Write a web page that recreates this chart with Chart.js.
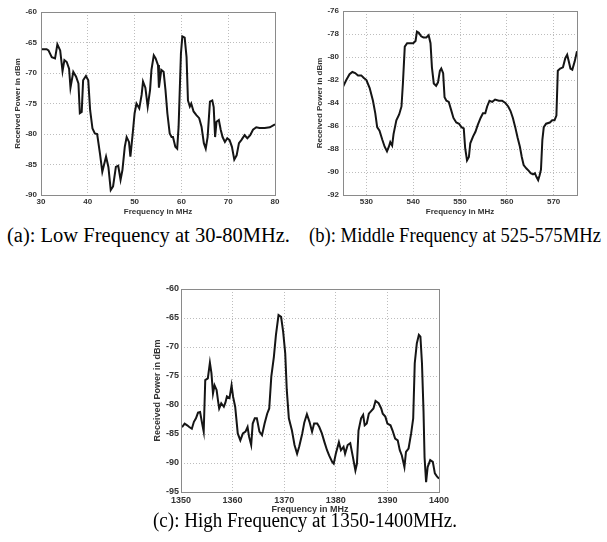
<!DOCTYPE html>
<html>
<head>
<meta charset="utf-8">
<script src="https://cdn.jsdelivr.net/npm/chart.js@4/dist/chart.umd.min.js"></script>
<style>
  html, body { margin: 0; padding: 0; background: #fff; }
  body { width: 607px; height: 542px; position: relative; overflow: hidden; }
  .wrap { position: absolute; }
  .cap { position: absolute; font-family: "Liberation Serif", "Times New Roman", serif; font-size: 20px; color: #000; white-space: nowrap; line-height: 1; transform-origin: 0 50%; }
</style>
</head>
<body>
<div class="wrap" style="left:0px;top:0px;width:300px;height:220px;"><canvas id="cA"></canvas></div>
<div class="wrap" style="left:300px;top:0px;width:307px;height:220px;"><canvas id="cB"></canvas></div>
<div class="wrap" style="left:150px;top:270px;width:310px;height:246px;"><canvas id="cC"></canvas></div>
<span class="cap" id="capA" style="left:7px;top:225px;"></span>
<span class="cap" id="capB" style="left:309px;top:225px;"></span>
<span class="cap" id="capC" style="left:153px;top:510px;"></span>
<script>
// ---- Data ----
const freqA = [30,31.2,31.6,32.3,33,33.5,34.1,34.6,35,35.5,36,36.3,36.9,37.5,38,38.3,38.7,39,39.6,40.1,40.5,41,41.5,42,42.6,43.1,43.9,44.4,44.9,45.4,46,46.5,47,47.4,47.9,48.3,48.8,49.1,49.6,50,50.4,51,51.5,51.8,52.3,52.8,53.3,53.6,54.1,54.5,55,55.2,55.7,56.2,56.6,57,57.5,57.9,58.2,58.7,59.1,59.4,59.9,60.2,60.7,61.1,61.4,61.8,62.1,62.6,63.2,63.8,64.3,64.8,65.2,65.6,66.1,66.6,66.9,67.2,67.5,68,68.4,68.8,69.3,69.8,70.3,70.8,71.3,71.8,72.3,72.8,73.5,74.1,74.7,75.3,76,76.7,77.8,78.9,80];
const powerA = [-66.1,-66.1,-66.3,-67.4,-67.6,-65.3,-66.3,-69.7,-67.9,-68.2,-69.3,-72.4,-69.8,-70.6,-71.7,-76.6,-76.4,-71.2,-70.5,-71.2,-76.1,-79.1,-79.9,-80.0,-83.2,-86.2,-83.7,-85.4,-89.2,-88.6,-85.4,-85.2,-87.5,-85.9,-82.1,-80.5,-81.3,-83.7,-79.9,-76.6,-75.0,-75.8,-73.6,-71.4,-72.4,-75.5,-72.8,-69.5,-67.1,-67.6,-68.7,-72.4,-69.5,-69.8,-72.8,-76.6,-79.9,-80.5,-80.5,-82.1,-82.4,-78.8,-66.8,-64.0,-64.2,-67.4,-74.5,-75.5,-75.0,-76.3,-76.9,-77.4,-78.8,-81.5,-82.4,-80.5,-74.7,-74.5,-75.6,-80.5,-78.0,-77.7,-79.3,-80.5,-81.3,-80.7,-81.0,-82.1,-84.2,-83.5,-81.5,-81.0,-80.2,-80.7,-80.2,-79.3,-78.9,-79.0,-79.0,-78.9,-78.4];

const freqB = [525,525.7,526.4,527,527.6,528.2,528.9,529.4,530,530.7,531.4,531.9,532.3,532.8,533.4,533.9,534.4,534.8,535.1,535.5,535.8,536.4,537,537.5,537.8,538.2,538.7,539.4,540,540.5,540.8,541.2,541.7,542.2,542.8,543.3,543.7,544,544.4,544.9,545.3,545.7,546,546.4,546.7,547.1,547.6,548.1,548.6,549.2,549.8,550.3,550.8,551.1,551.5,551.9,552.2,552.8,553.3,553.8,554.4,554.9,555.4,555.8,556.3,556.9,557.5,558.3,559,559.7,560.3,560.8,561.3,561.8,562.3,562.8,563.2,563.6,564.2,564.7,565.1,565.6,566,566.3,566.7,567,567.3,567.6,567.9,568.4,569.2,569.7,570.2,570.6,570.9,571.4,572,572.5,572.9,573.2,573.6,574,574.5,575];
const powerB = [-82.6,-82.0,-81.5,-81.3,-81.4,-81.6,-81.6,-81.8,-82.0,-82.7,-83.8,-84.9,-86.1,-86.4,-87.2,-87.8,-88.2,-87.8,-87.4,-87.7,-86.7,-85.5,-85.0,-84.3,-82.3,-79.1,-78.8,-78.8,-78.8,-78.6,-77.8,-77.9,-78.2,-78.3,-78.3,-78.1,-78.8,-80.9,-82.3,-82.5,-82.2,-81.2,-81.0,-81.4,-83.5,-83.8,-83.9,-84.6,-85.3,-85.7,-85.8,-86.1,-86.2,-87.9,-89.0,-88.7,-87.5,-86.9,-86.5,-85.9,-85.3,-84.9,-84.9,-84.3,-83.8,-83.9,-83.7,-83.8,-83.8,-84.0,-84.3,-84.7,-85.3,-86.1,-87.0,-87.8,-88.7,-89.4,-89.7,-89.9,-90.1,-90.2,-90.1,-90.4,-90.7,-90.3,-89.8,-87.2,-86.1,-85.8,-85.7,-85.5,-85.5,-85.1,-81.2,-81.0,-80.9,-80.1,-79.8,-80.3,-81.0,-81.1,-80.4,-79.5];

const freqC = [1350,1350.3,1350.7,1351.2,1351.6,1352.1,1352.5,1352.9,1353.3,1353.7,1354.1,1354.4,1354.7,1355.2,1355.6,1355.9,1356.2,1356.5,1356.9,1357.2,1357.4,1357.8,1358.3,1358.6,1358.9,1359.4,1359.8,1360.1,1360.5,1361,1361.5,1362,1362.5,1362.9,1363.2,1363.6,1363.9,1364.3,1364.7,1365.2,1365.7,1366.2,1366.7,1367.1,1367.5,1368,1368.4,1368.9,1369.4,1369.8,1370.2,1370.5,1370.9,1371.5,1372,1372.5,1372.9,1373.5,1373.9,1374.4,1374.9,1375.4,1375.8,1376.4,1376.8,1377.3,1377.8,1378.3,1378.7,1379.3,1379.6,1380,1380.6,1381,1381.5,1381.8,1382.3,1382.8,1383.3,1383.8,1384.1,1384.4,1384.9,1385.3,1385.6,1386,1386.4,1386.8,1387.3,1387.7,1388.3,1388.8,1389.1,1389.6,1390,1390.6,1391,1391.5,1392,1392.4,1392.8,1393.3,1393.6,1394.1,1394.6,1395,1395.3,1395.7,1396.1,1396.4,1396.7,1397,1397.2,1397.5,1397.8,1398.3,1398.8,1399.2,1399.6,1400];
const powerC = [-83.8,-83.7,-83.2,-83.5,-83.8,-84.1,-82.9,-82.3,-81.3,-81.2,-83.2,-84.6,-75.7,-75.4,-72.7,-74.5,-78.0,-76.6,-77.4,-79.4,-80.6,-79.7,-80.3,-79.6,-78.5,-78.8,-76.6,-78.6,-80.3,-84.9,-86.1,-84.9,-84.6,-83.8,-85.5,-86.9,-83.2,-82.3,-82.3,-84.6,-85.2,-83.2,-81.5,-80.6,-75.1,-71.7,-67.9,-64.5,-64.8,-67.4,-71.1,-77.4,-82.3,-84.4,-86.9,-88.4,-87.2,-84.9,-83.0,-81.6,-82.9,-84.6,-83.2,-83.2,-83.8,-84.9,-86.4,-87.8,-88.7,-89.8,-90.1,-88.4,-86.4,-87.8,-87.2,-88.4,-86.9,-86.6,-88.9,-91.3,-90.1,-84.4,-82.3,-81.7,-83.5,-83.2,-81.5,-81.1,-80.6,-79.3,-79.7,-80.6,-81.5,-82.0,-83.2,-83.5,-84.4,-85.8,-86.1,-87.8,-88.7,-90.7,-88.1,-87.5,-84.9,-82.3,-72.8,-69.4,-67.9,-68.2,-72.8,-81.1,-89.0,-93.3,-90.7,-89.5,-89.8,-91.8,-92.3,-92.7];

const xRangeA = [30, 80], yRangeA = [-90, -60], xStepA = 10, yStepA = 5;
const xRangeB = [525, 575], yRangeB = [-92, -76], xStepB = 10, yStepB = 2;
const xRangeC = [1350, 1400], yRangeC = [-95, -60], xStepC = 10, yStepC = 5;
const xTicksB = [530, 540, 550, 560, 570];

const xTitle = 'Frequency in MHz';
const yTitle = 'Received Power in dBm';
const captions = ['(a): Low Frequency at 30-80MHz.', '(b): Middle Frequency at 525-575MHz', '(c): High Frequency at 1350-1400MHz.'];

// caption placement (widths to fit)
const capIds = ['capA', 'capB', 'capC'];
const capWidths = [283, 292, 304];
capIds.forEach((id, i) => {
  const el = document.getElementById(id);
  el.textContent = captions[i];
  const w = el.getBoundingClientRect().width;
  if (w > 0) el.style.transform = 'scaleX(' + (capWidths[i] / w) + ')';
});

const boxPlugin = {
  id: 'box',
  afterDatasetsDraw(chart) {
    const a = chart.chartArea, ctx = chart.ctx;
    ctx.save();
    ctx.strokeStyle = '#8a8a8a';
    ctx.lineWidth = 1;
    ctx.setLineDash([]);
    ctx.strokeRect(Math.round(a.left) + 0.5, Math.round(a.top) + 0.5, Math.round(a.right - a.left), Math.round(a.bottom - a.top));
    ctx.restore();
  }
};

function makeChart(id, fx, py, xr, yr, xs, ys, L) {
  const pts = fx.map((f, i) => ({ x: f, y: py[i] }));
  const fam = '"Liberation Sans", Arial, sans-serif';
  return new Chart(document.getElementById(id), {
    type: 'line',
    data: { datasets: [{ data: pts, borderColor: '#151515', borderWidth: 2, pointRadius: 0, tension: 0, fill: false }] },
    plugins: [boxPlugin],
    options: {
      responsive: true, maintainAspectRatio: false, animation: false,
      layout: { padding: { top: L.top, right: L.right, left: 0, bottom: 0 } },
      plugins: { legend: { display: false }, tooltip: { enabled: false } },
      scales: {
        x: {
          type: 'linear', min: xr[0], max: xr[1],
          afterBuildTicks: L.xTicks ? (s) => { s.ticks = L.xTicks.map(v => ({ value: v })); } : undefined,
          ticks: { stepSize: xs, color: '#333', padding: L.xtp, maxRotation: 0, autoSkip: false, callback: (v) => String(v), font: { family: fam, size: L.fs, weight: 'bold' } },
          grid: { color: '#bdbdbd', lineWidth: 1, drawTicks: false },
          border: { display: false, dash: [1, 2] },
          title: { display: true, text: xTitle, color: '#333', padding: { top: 0, bottom: L.xtb }, font: { family: fam, size: L.fs, weight: 'bold' } },
          afterFit: (s) => { s.height = L.xh; }
        },
        y: {
          type: 'linear', min: yr[0], max: yr[1],
          ticks: { stepSize: ys, color: '#333', padding: L.ytp, callback: (v) => String(v), font: { family: fam, size: L.fs, weight: 'bold' } },
          grid: { color: '#bdbdbd', lineWidth: 1, drawTicks: false },
          border: { display: false, dash: [1, 2] },
          title: { display: true, text: yTitle, color: '#333', padding: { top: L.ytt, bottom: 0 }, font: { family: fam, size: L.fs, weight: 'bold' } },
          afterFit: (s) => { s.width = L.yw; }
        }
      }
    }
  });
}

makeChart('cA', freqA, powerA, xRangeA, yRangeA, xStepA, yStepA, { top: 12, right: 25, xh: 25, yw: 41, fs: 8, xtp: 2, xtb: 3, ytp: 4, ytt: 13 });
makeChart('cB', freqB, powerB, xRangeB, yRangeB, xStepB, yStepB, { top: 11, right: 30, xh: 25, yw: 43, fs: 8, xtp: 2, xtb: 3, ytp: 4, ytt: 15, xTicks: xTicksB });
makeChart('cC', freqC, powerC, xRangeC, yRangeC, xStepC, yStepC, { top: 19, right: 21, xh: 24, yw: 31, fs: 9, xtp: 3, xtb: 1, ytp: 2, ytt: 2 });
</script>
</body>
</html>
